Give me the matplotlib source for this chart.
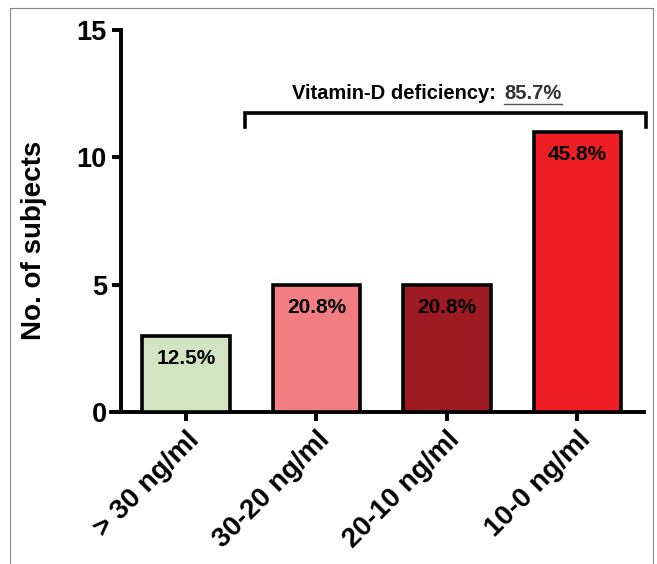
import numpy as np
import matplotlib.pyplot as plt
import matplotlib.lines as mlines

plt.rcParams['font.family'] = ['Liberation Sans', 'DejaVu Sans']
plt.rcParams['font.weight'] = 'bold'

# Data
categories = ['> 30 ng/ml', '30-20 ng/ml', '20-10 ng/ml', '10-0 ng/ml']
counts = [3, 5, 5, 11]
percents = ['12.5%', '20.8%', '20.8%', '45.8%']
colors = ['#d2e5c3', '#f27e81', '#9d1b21', '#ed1f24']
deficiency_text = 'Vitamin-D deficiency:'
deficiency_value = '85.7%'

fig = plt.figure(figsize=(6.57, 5.64), dpi=100)
ax = fig.add_axes([0.169, 0.2695, 0.811, 0.677])

x = np.arange(len(categories))
ax.bar(x, counts, width=0.67, color=colors, edgecolor='black', linewidth=2.6, zorder=3)

# percentage labels inside the bars
for xi, c, p in zip(x, counts, percents):
    ax.text(xi, c - 0.9, p, ha='center', va='center', fontsize=15, fontweight='bold')

ax.set_xlim(-0.575, 3.51)
ax.set_ylim(0, 15)
ax.set_yticks([0, 5, 10, 15])
ax.set_xticks(x)
ax.set_xticklabels(categories, rotation=45, ha='right', rotation_mode='anchor',
                   fontsize=20, fontweight='bold')

ax.spines['top'].set_visible(False)
ax.spines['right'].set_visible(False)
ax.spines['left'].set_position(('data', -0.5))
ax.spines['left'].set_bounds(0, 15)
ax.spines['left'].set_linewidth(2.8)
ax.spines['bottom'].set_linewidth(2.8)
ax.tick_params(axis='both', width=2.8, length=6.5, direction='out')
ax.tick_params(axis='y', pad=3.5, labelsize=19.5)
ax.tick_params(axis='x', pad=4)

ax.set_ylabel('No. of subjects', fontsize=20, fontweight='bold')
ax.yaxis.set_label_coords(-0.12, 0.45)

# bracket over the deficient groups
bx0, bx1 = 0.452, 3.525
by_top, by_bot = 11.74, 11.19
ax.plot([bx0, bx0, bx1, bx1], [by_bot, by_top, by_top, by_bot], color='black',
        linewidth=2.6, solid_joinstyle='miter', clip_on=False, zorder=4)

split_x = 2.42
ax.text(split_x, 12.3, deficiency_text + ' ', ha='right', va='baseline',
        fontsize=14.5, fontweight='bold')
val = ax.text(split_x + 0.02, 12.3, deficiency_value, ha='left', va='baseline',
              fontsize=14.5, fontweight='bold', color='#333333')

fig.canvas.draw()
bb = val.get_window_extent().transformed(fig.transFigure.inverted())
uy = bb.y0 - 1.0 / 564
fig.add_artist(mlines.Line2D([bb.x0, bb.x1], [uy, uy], transform=fig.transFigure,
                             color='#555555', linewidth=1.0))

# thin frame around the figure
fx0, fx1, fy1 = 10 / 657, 653 / 657, 1 - 8 / 564
fig.add_artist(mlines.Line2D([fx0, fx0, fx1, fx1], [0, fy1, fy1, 0],
                             transform=fig.transFigure, color='#888888', linewidth=0.8))

fig.savefig('out.png', dpi=100)
